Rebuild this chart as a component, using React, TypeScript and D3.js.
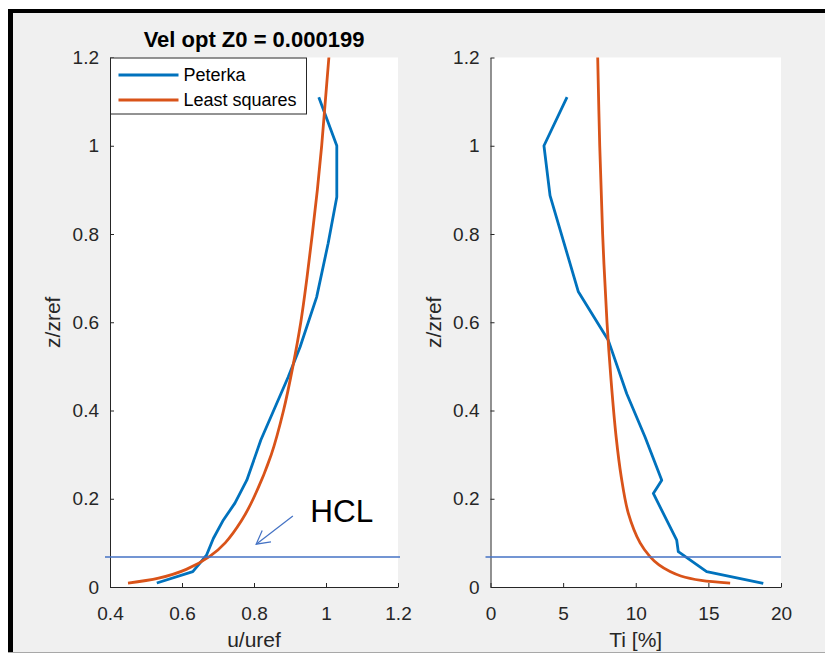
import React, { useEffect, useRef } from "react";
import * as d3 from "d3";

// values
const zTicks = [0, 0.2, 0.4, 0.6, 0.8, 1, 1.2];
const uTicks = [0.4, 0.6, 0.8, 1, 1.2];
const tiTicks = [0, 5, 10, 15, 20];

const peterkaVelZ = [0.009, 0.035, 0.072, 0.11, 0.152, 0.19, 0.242, 0.333, 0.476, 0.544, 0.657, 0.779, 0.884, 1.0, 1.11];
const peterkaVelU = [0.53, 0.63, 0.668, 0.687, 0.715, 0.747, 0.78, 0.819, 0.895, 0.928, 0.974, 1.006, 1.03, 1.03, 0.98];

const lsqVelZ = [0.009, 0.02, 0.04, 0.07, 0.1, 0.15, 0.2, 0.3, 0.4, 0.5, 0.6, 0.7, 0.8, 0.9, 1.0, 1.1, 1.2];
const lsqVelU = [0.45, 0.535, 0.612, 0.678, 0.72, 0.765, 0.798, 0.848, 0.882, 0.908, 0.93, 0.947, 0.962, 0.976, 0.988, 0.998, 1.008];

const peterkaTiZ = [0.0084, 0.035, 0.08, 0.106, 0.212, 0.242, 0.34, 0.438, 0.56, 0.669, 0.887, 1.0, 1.11];
const peterkaTi = [18.78, 14.88, 12.93, 12.82, 11.21, 11.79, 10.64, 9.38, 8.1, 6.05, 4.1, 3.68, 5.27];

const lsqTiZ = [0.009, 0.015, 0.025, 0.035, 0.05, 0.069, 0.1, 0.167, 0.25, 0.34, 0.469, 0.6, 0.8, 1.0, 1.2];
const lsqTi = [16.5, 14.5, 13.1, 12.36, 11.6, 10.98, 10.3, 9.49, 9.0, 8.65, 8.3, 8.02, 7.72, 7.52, 7.38];

const hclZ = 0.068;
const seriesNames = ["Peterka", "Least squares"];
const chartTitle = "Vel opt Z0 = 0.000199";

const BLUE = "#0072BD";
const ORANGE = "#D95319";
const AXIS = "#262626";
const FONT = "'Liberation Sans', Arial, sans-serif";

export default function App() {
  const svgRef = useRef<SVGSVGElement | null>(null);

  useEffect(() => {
    if (!svgRef.current) return;
    const width = 825;
    const height = 655;

    const svg = d3.select(svgRef.current);
    svg.selectAll("*").remove();
    svg.attr("width", width).attr("height", height);

    // figure frame
    svg.append("rect").attr("width", width).attr("height", height).attr("fill", "#fff");
    svg.append("rect").attr("x", 8).attr("y", 9).attr("width", width - 8).attr("height", 644).attr("fill", "#f0f0f0");
    svg.append("rect").attr("x", 8).attr("y", 9).attr("width", width - 8).attr("height", 4).attr("fill", "#000");
    svg.append("rect").attr("x", 8).attr("y", 9).attr("width", 5).attr("height", 644).attr("fill", "#000");
    svg.append("rect").attr("x", 8).attr("y", 652).attr("width", width - 8).attr("height", 1).attr("fill", "#a8a8a8");

    const y = d3.scaleLinear().domain([0, 1.2]).range([587, 57.5]);
    const xVel = d3.scaleLinear().domain([0.4, 1.2]).range([110, 398]);
    const xTi = d3.scaleLinear().domain([0, 20]).range([490.5, 781]);

    const drawPanel = (x: any, ticks: number[], xLabel: string) => {
      const [x0, x1] = x.range();
      svg.append("rect").attr("x", x0).attr("y", y(1.2)).attr("width", x1 - x0).attr("height", y(0) - y(1.2)).attr("fill", "#fff");

      const gx = svg
        .append("g")
        .attr("transform", `translate(0,${y(0)})`)
        .call(d3.axisBottom(x).tickValues(ticks).tickFormat(d3.format("")).tickSizeInner(-4).tickSizeOuter(0).tickPadding(19.5));
      const gy = svg
        .append("g")
        .attr("transform", `translate(${x0},0)`)
        .call(d3.axisLeft(y).tickValues(zTicks).tickFormat(d3.format("")).tickSizeInner(-4).tickSizeOuter(0).tickPadding(11));
      [gx, gy].forEach((g) => {
        g.select(".domain").attr("stroke", AXIS);
        g.selectAll(".tick line").attr("stroke", AXIS);
        g.selectAll(".tick text").attr("fill", AXIS).attr("font-size", 19).attr("font-family", FONT);
      });

      svg
        .append("text")
        .attr("x", (x0 + x1) / 2)
        .attr("y", 647)
        .attr("text-anchor", "middle")
        .attr("font-size", 21)
        .attr("font-family", FONT)
        .attr("fill", AXIS)
        .text(xLabel);
      svg
        .append("text")
        .attr("transform", `translate(${x0 - 50},${(y(0) + y(1.2)) / 2}) rotate(-90)`)
        .attr("text-anchor", "middle")
        .attr("font-size", 21)
        .attr("font-family", FONT)
        .attr("fill", AXIS)
        .text("z/zref");
    };

    drawPanel(xVel, uTicks, "u/uref");
    drawPanel(xTi, tiTicks, "Ti [%]");

    const addLine = (x: any, xs: number[], zs: number[], color: string, curve: any) => {
      const pts = zs.map((z, i) => [xs[i], z] as [number, number]);
      const line = d3
        .line<[number, number]>()
        .x((d) => x(d[0]))
        .y((d) => y(d[1]))
        .curve(curve);
      svg
        .append("path")
        .attr("d", line(pts))
        .attr("fill", "none")
        .attr("stroke", color)
        .attr("stroke-width", 2.8)
        .attr("stroke-linejoin", "round");
    };

    addLine(xVel, peterkaVelU, peterkaVelZ, BLUE, d3.curveLinear);
    addLine(xVel, lsqVelU, lsqVelZ, ORANGE, d3.curveCatmullRom.alpha(0.5));
    addLine(xTi, peterkaTi, peterkaTiZ, BLUE, d3.curveLinear);
    addLine(xTi, lsqTi, lsqTiZ, ORANGE, d3.curveCatmullRom.alpha(0.5));

    // HCL annotation
    const hclColor = "#4472C4";
    [
      [xVel.range()[0] - 5, xVel.range()[1] + 2],
      [xTi.range()[0] - 5, xTi.range()[1]],
    ].forEach(([a, b]) => {
      svg.append("line").attr("x1", a).attr("x2", b).attr("y1", y(hclZ)).attr("y2", y(hclZ)).attr("stroke", hclColor).attr("stroke-width", 1.5);
    });

    const tail = [xVel(0.908), y(0.161)];
    const tip = [xVel(0.806), y(0.097)];
    svg.append("line").attr("x1", tail[0]).attr("y1", tail[1]).attr("x2", tip[0]).attr("y2", tip[1]).attr("stroke", hclColor).attr("stroke-width", 1.2);
    const ang = Math.atan2(tail[1] - tip[1], tail[0] - tip[0]);
    const head = [ang - 0.5, ang + 0.5].map((a) => [tip[0] + 15 * Math.cos(a), tip[1] + 15 * Math.sin(a)]);
    svg
      .append("path")
      .attr("d", `M${head[0][0]},${head[0][1]}L${tip[0]},${tip[1]}L${head[1][0]},${head[1][1]}`)
      .attr("fill", "none")
      .attr("stroke", hclColor)
      .attr("stroke-width", 1.2);
    svg
      .append("text")
      .attr("x", xVel(0.956))
      .attr("y", y(0.147))
      .attr("font-size", 31.5)
      .attr("font-family", FONT)
      .attr("fill", "#000")
      .text("HCL");

    // title
    svg
      .append("text")
      .attr("x", (xVel.range()[0] + xVel.range()[1]) / 2)
      .attr("y", 47)
      .attr("text-anchor", "middle")
      .attr("font-size", 22)
      .attr("font-weight", "bold")
      .attr("font-family", FONT)
      .attr("fill", "#000")
      .text(chartTitle);

    // legend
    const lx = xVel.range()[0] + 0.5;
    const ly = y(1.2) + 0.5;
    const legend = svg.append("g").attr("transform", `translate(${lx},${ly})`);
    legend.append("rect").attr("width", 196).attr("height", 56).attr("fill", "#fff").attr("stroke", AXIS).attr("stroke-width", 1);
    [BLUE, ORANGE].forEach((c, i) => {
      const cy = 17 + i * 25;
      legend.append("line").attr("x1", 8).attr("x2", 68).attr("y1", cy).attr("y2", cy).attr("stroke", c).attr("stroke-width", 2.8);
      legend
        .append("text")
        .attr("x", 73)
        .attr("y", cy + 6)
        .attr("font-size", 18)
        .attr("font-family", FONT)
        .attr("fill", "#000")
        .text(seriesNames[i]);
    });
  }, []);

  return <svg ref={svgRef} style={{ position: "absolute", left: 0, top: 0, display: "block" }} />;
}
